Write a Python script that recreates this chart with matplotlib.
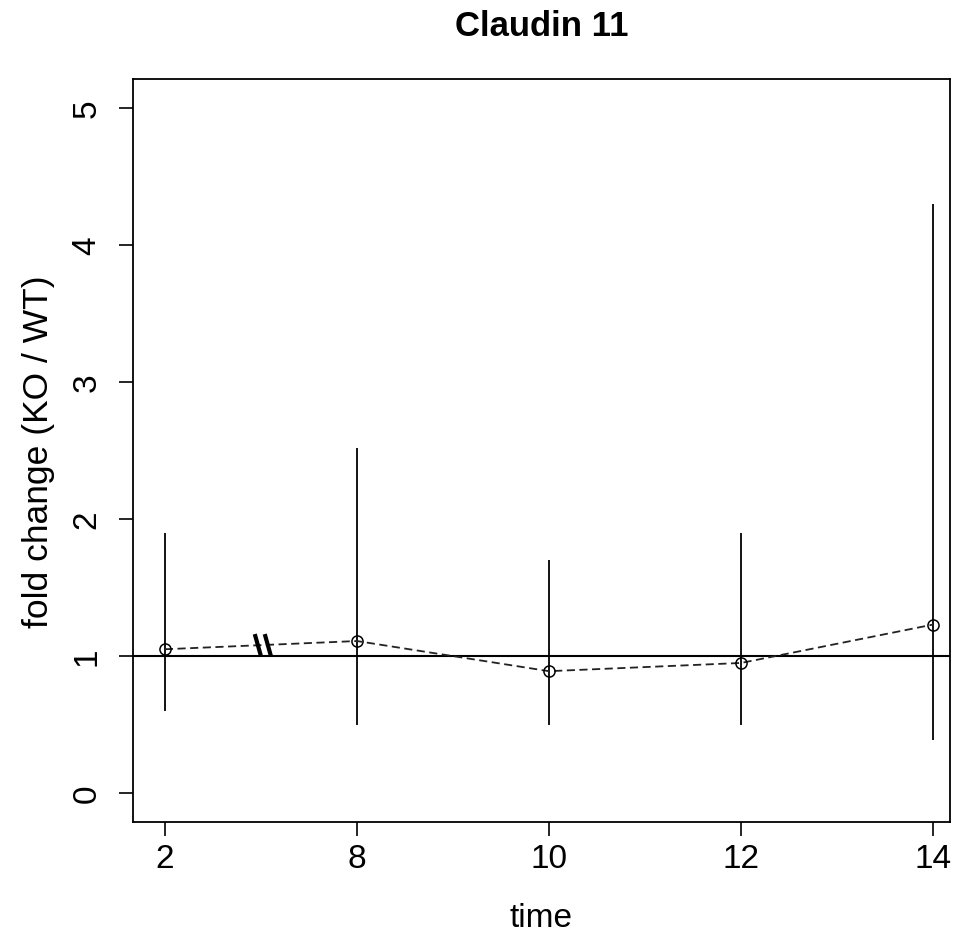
import matplotlib
matplotlib.use("Agg")
import matplotlib.pyplot as plt

plt.rcParams['font.family'] = ['Liberation Sans', 'DejaVu Sans']

# data
time_labels = ['2', '8', '10', '12', '14']
fold_change = [1.05, 1.11, 0.89, 0.95, 1.23]
lower = [0.60, 0.50, 0.50, 0.50, 0.39]
upper = [1.90, 2.52, 1.70, 1.90, 4.30]

pos = list(range(1, len(time_labels) + 1))

fig = plt.figure(figsize=(9.66, 9.37), dpi=100)
ax = fig.add_axes([0.1377, 0.1217, 0.9834 - 0.1377, 0.9146 - 0.1217])

# error bars (no caps)
ax.vlines(pos, lower, upper, colors='black', linewidth=1.3, zorder=2)
# reference line
ax.axhline(1, color='black', linewidth=1.5, zorder=1)
# mean line
ax.plot(pos, fold_change, linestyle=(0, (4.5, 2.5)), color='#222222', linewidth=1.3,
        marker='o', markersize=8, markerfacecolor='none', markeredgecolor='black',
        markeredgewidth=1.1, zorder=3)

# axis break marker between 2 and 8
bx = 1.51
by = fold_change[0] + (fold_change[1] - fold_change[0]) * (bx - 1)
for dx in (-0.026, 0.026):
    ax.plot([bx + dx - 0.016, bx + dx + 0.016], [by + 0.08, by - 0.08],
            color='black', linewidth=3.0, solid_capstyle='butt', zorder=4)

ax.set_xlim(0.834, 5.088)
ax.set_ylim(-0.21, 5.21)
ax.set_xticks(pos)
ax.set_xticklabels(time_labels)
ax.set_yticks([0, 1, 2, 3, 4, 5])
ax.set_yticklabels(['0', '1', '2', '3', '4', '5'], rotation=90, va='center')

ax.tick_params(direction='out', length=10, width=1.2, labelsize=24)
ax.tick_params(axis='y', pad=12)
ax.tick_params(axis='x', pad=5)
for sp in ax.spines.values():
    sp.set_linewidth(1.3)

ax.set_xlabel('time', fontsize=24, labelpad=20)
ax.set_ylabel('fold change (KO / WT)', fontsize=25.5, labelpad=12)
ax.set_title('Claudin 11', fontsize=25, fontweight='bold', pad=32)

fig.savefig('out.png', dpi=100)
